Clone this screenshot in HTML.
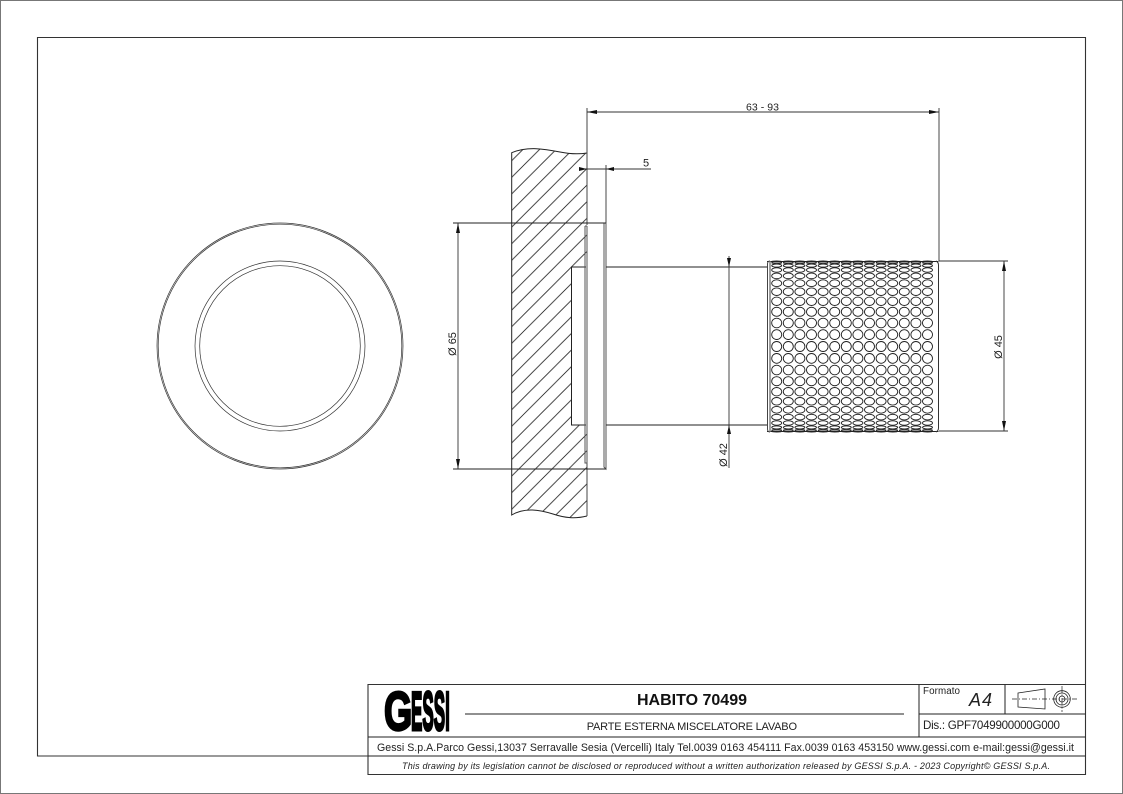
<!DOCTYPE html>
<html><head><meta charset="utf-8"><style>
html,body{margin:0;padding:0;background:#fff;width:1123px;height:794px;overflow:hidden}
svg{display:block}
text{font-family:"Liberation Sans",sans-serif;fill:#222}
</style></head><body>
<svg width="1123" height="794" viewBox="0 0 1123 794" xmlns="http://www.w3.org/2000/svg">
<defs>
<pattern id="h" patternUnits="userSpaceOnUse" x="8.4" y="0" width="16.6" height="16.6">
<path d="M-1,1L1,-1M0,16.6L16.6,0M15.6,17.6L17.6,15.6" stroke="#222" stroke-width=".8" fill="none"/>
</pattern>
<g id="col" fill="none" stroke="#222" stroke-width=".9">
<ellipse cy="261.5" rx="5" ry=".5"/><ellipse cy="262.7" rx="5" ry=".85"/><ellipse cy="265.6" rx="5" ry="1.5"/><ellipse cy="270" rx="5" ry="2.2"/><ellipse cy="275.9" rx="5" ry="2.8"/><ellipse cy="283.2" rx="5" ry="3.35"/><ellipse cy="291.7" rx="5" ry="3.8"/><ellipse cy="301.3" rx="5" ry="4.2"/><ellipse cy="311.8" rx="5" ry="4.55"/><ellipse cy="323" rx="5" ry="4.8"/><ellipse cy="334.6" rx="5" ry="4.9"/><ellipse cy="346.5" rx="5" ry="5"/><ellipse cy="358.4" rx="5" ry="4.9"/><ellipse cy="370" rx="5" ry="4.8"/><ellipse cy="381.2" rx="5" ry="4.55"/><ellipse cy="391.7" rx="5" ry="4.2"/><ellipse cy="401.3" rx="5" ry="3.8"/><ellipse cy="409.8" rx="5" ry="3.35"/><ellipse cy="417.1" rx="5" ry="2.8"/><ellipse cy="423" rx="5" ry="2.2"/><ellipse cy="427.4" rx="5" ry="1.5"/><ellipse cy="430.3" rx="5" ry=".85"/><ellipse cy="431.5" rx="5" ry=".5"/>
</g>
</defs>
<rect x="0.5" y="0.5" width="1122" height="793" fill="none" stroke="#777" stroke-width="1"/>
<path d="M368,756H37.5V37.5H1085.5V774.5H368V684.5H1085.5" fill="none" stroke="#333" stroke-width="1.1"/>
<g fill="none" stroke="#333" stroke-width=".7">
<circle cx="280" cy="346" r="123"/><circle cx="280" cy="346" r="121.8"/>
<circle cx="280" cy="346" r="85"/><circle cx="280" cy="346" r="80.3"/>
</g>
<path d="M511.7,152.7C528,146 545,149 560,152C570,154 578,154.5 587,153V516C575,519 565,518 553,514C540,510 525,507 511.7,515ZM571,267V425H586.5V267Z" fill="url(#h)" fill-rule="evenodd"/>
<g fill="none" stroke="#222" stroke-width="1">
<path d="M587,153C578,154.5 570,154 560,152C545,149 528,146 511.7,152.7V515C525,507 540,510 553,514C565,518 575,519 587,516"/>
<path d="M587,108V225M587,463V516" stroke="#444"/>
<path d="M586,267H571.5V425H586"/>
<path d="M585,226H587M585,226V463H587V226" stroke="#555"/>
<path d="M604,223V467L606,469V223" stroke="#555"/>
<path d="M606,267H768M606,425H768"/>
<path d="M453,223H606M453,469H606"/>
</g>
<g fill="none" stroke="#333" stroke-width=".9">
<path d="M587,112H939"/><path d="M939,108V261"/>
<path d="M579,169H651"/><path d="M606,165V223"/>
<path d="M458,223V469"/>
<path d="M729,256V468"/>
<path d="M939,261H1008M939,431H1008"/><path d="M1004,261V431"/>
</g>
<g fill="#111">
<path d="M587,112L597,110V114Z"/><path d="M939,112L929,110V114Z"/>
<path d="M587,169L579,167V171Z"/><path d="M606,169L614,167V171Z"/>
<path d="M458,223L456,233H460Z"/><path d="M458,469L456,459H460Z"/>
<path d="M729,267L727,258H731Z"/><path d="M729,425L727,434H731Z"/>
<path d="M1004,261L1002,271H1006Z"/><path d="M1004,431L1002,421H1006Z"/>
</g>
<use href="#col" x="776.7"/><use href="#col" x="788.3"/><use href="#col" x="799.9"/><use href="#col" x="811.5"/><use href="#col" x="823.1"/><use href="#col" x="834.7"/><use href="#col" x="846.3"/><use href="#col" x="857.9"/><use href="#col" x="869.5"/><use href="#col" x="881.1"/><use href="#col" x="892.7"/><use href="#col" x="904.3"/><use href="#col" x="915.9"/><use href="#col" x="927.5"/>
<rect x="767" y="261" width="171.5" height="1" fill="#222"/>
<rect x="767" y="431" width="171.5" height="1" fill="#222"/>
<path d="M770,261C768,261 767.5,262 767.5,264V429C767.5,431 768,432 770,432" fill="none" stroke="#444"/>
<path d="M770,261V432" fill="none" stroke="#777" stroke-width="1.4"/>
<path d="M936,261C938,262 938.5,263 938.5,265V428C938.5,430 938,431 936,432" fill="none" stroke="#333"/>
<text x="746" y="110.5" font-size="10.5" textLength="33">63 - 93</text>
<text x="643" y="166.5" font-size="11">5</text>
<text transform="translate(456,344) rotate(-90)" text-anchor="middle" font-size="11">Ø 65</text>
<text transform="translate(727,455) rotate(-90)" text-anchor="middle" font-size="11">Ø 42</text>
<text transform="translate(1002,347) rotate(-90)" text-anchor="middle" font-size="11">Ø 45</text>
<g fill="none" stroke="#222" stroke-width="1">
<path d="M368,737H1085.5M368,756H1085.5"/>
<path d="M465,714H904"/>
<path d="M919,684.5V737M1005,684.5V714M919,714H1085.5"/>
<path d="M1018,693L1045,689V709L1018,707Z" stroke-width=".8"/>
<path d="M1012,699H1078" stroke-width=".7" stroke-dasharray="5 2 1 2"/>
<path d="M1062,686V712" stroke-width=".7" stroke-dasharray="7 1.5 2 1.5"/>
<circle cx="1062" cy="699" r="8.3" stroke-width=".8"/><circle cx="1062" cy="699" r="6" stroke-width=".8"/><circle cx="1062" cy="699" r="3" stroke-width=".8"/>
</g>
<text transform="translate(384,730) scale(.66,1)" font-size="55" font-weight="700" style="fill:#000;stroke:#000;stroke-width:2.5">G</text>
<text transform="translate(411,730) scale(.31,1)" font-size="55" font-weight="700" style="fill:#000;stroke:#000;stroke-width:3">ESSI</text>
<text x="637" y="705" font-size="16" font-weight="700" textLength="110" style="fill:#111">HABITO 70499</text>
<text x="586.7" y="730" font-size="11" textLength="210.3">PARTE ESTERNA MISCELATORE LAVABO</text>
<text x="377" y="751" font-size="10.6" textLength="697">Gessi S.p.A.Parco Gessi,13037 Serravalle Sesia (Vercelli) Italy Tel.0039 0163 454111 Fax.0039 0163 453150 www.gessi.com e-mail:gessi@gessi.it</text>
<text x="402" y="769" font-size="9" font-style="italic" textLength="648">This drawing by its legislation cannot be disclosed or reproduced without a written authorization released by GESSI S.p.A. - 2023 Copyright© GESSI S.p.A.</text>
<text x="923" y="694" font-size="9.8" textLength="37">Formato</text>
<text x="969" y="706" font-size="18" font-style="italic" textLength="23">A4</text>
<text x="923" y="729" font-size="11.6" textLength="137">Dis.: GPF7049900000G000</text>
</svg>
</body></html>
